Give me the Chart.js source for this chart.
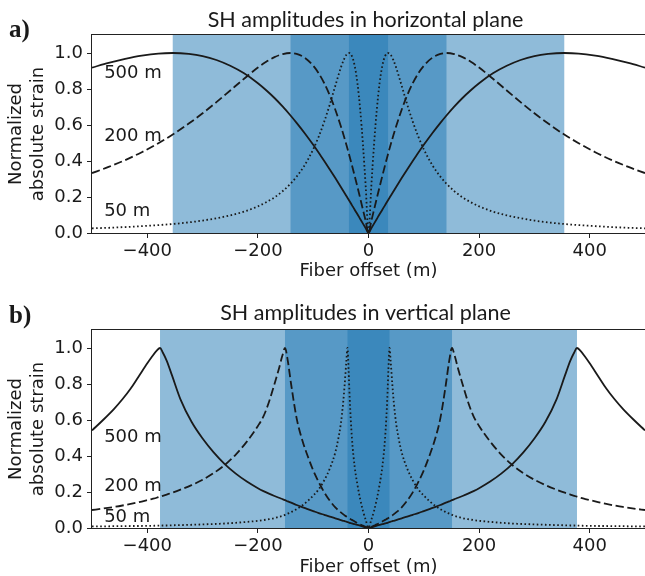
<!DOCTYPE html>
<html>
<head>
<meta charset="utf-8">
<script src="https://cdn.jsdelivr.net/npm/chart.js@4.4.1/dist/chart.umd.min.js"></script>
<style>
  html, body { margin: 0; padding: 0; background: #fff; overflow: hidden; }
  #wrap { position: relative; width: 645px; height: 576px; overflow: hidden; }
  canvas { position: absolute; left: 0; }
  #chartA { top: 0; }
  #chartB { top: 290px; }
</style>
</head>
<body>
<div id="wrap">
  <canvas id="chartA" width="645" height="290"></canvas>
  <canvas id="chartB" width="645" height="296"></canvas>
</div>
<script>
// fibre offsets (m) on one side of the source; both patterns are symmetric about x = 0
const offsetsH = [0, 5, 10, 15, 20, 25, 30, 35, 40, 45, 50, 60, 70, 80, 90, 100, 115, 130, 141, 155, 170, 185, 200, 225, 250, 275, 300, 325, 354, 380, 410, 440, 470, 500];
const horiz500 = [0, 0.026, 0.052, 0.078, 0.104, 0.129, 0.155, 0.181, 0.206, 0.231, 0.256, 0.305, 0.353, 0.400, 0.446, 0.490, 0.553, 0.612, 0.653, 0.702, 0.750, 0.793, 0.832, 0.887, 0.929, 0.961, 0.983, 0.995, 1.000, 0.997, 0.985, 0.967, 0.945, 0.919];
const horiz200 = [0, 0.065, 0.129, 0.193, 0.256, 0.317, 0.377, 0.435, 0.490, 0.543, 0.593, 0.685, 0.765, 0.832, 0.887, 0.929, 0.973, 0.995, 1.000, 0.994, 0.977, 0.951, 0.919, 0.857, 0.792, 0.727, 0.665, 0.608, 0.547, 0.499, 0.449, 0.405, 0.367, 0.333];
const horiz50 = [0, 0.256, 0.490, 0.685, 0.832, 0.929, 0.983, 1.000, 0.990, 0.960, 0.919, 0.818, 0.714, 0.619, 0.536, 0.465, 0.379, 0.313, 0.274, 0.233, 0.198, 0.171, 0.148, 0.119, 0.098, 0.082, 0.069, 0.059, 0.050, 0.044, 0.038, 0.033, 0.029, 0.026];

const offsetsV = [0, 5, 10, 15, 20, 25, 30, 34, 36, 38, 40, 43, 46, 50, 55, 60, 70, 80, 90, 100, 110, 120, 130, 140, 146, 151, 156, 162, 170, 180, 190, 200, 220, 240, 260, 280, 300, 320, 340, 355, 365, 372, 377, 383, 392, 400, 415, 430, 445, 460, 480, 500];
const vert500 = [0, 0.004, 0.008, 0.013, 0.017, 0.021, 0.026, 0.029, 0.031, 0.033, 0.035, 0.038, 0.040, 0.044, 0.049, 0.054, 0.063, 0.073, 0.083, 0.094, 0.105, 0.116, 0.128, 0.141, 0.148, 0.155, 0.161, 0.168, 0.178, 0.191, 0.205, 0.221, 0.258, 0.302, 0.355, 0.420, 0.497, 0.590, 0.715, 0.845, 0.930, 0.975, 1.000, 0.985, 0.950, 0.915, 0.845, 0.775, 0.715, 0.662, 0.600, 0.542];
const vert200 = [0, 0.006, 0.013, 0.020, 0.028, 0.036, 0.045, 0.052, 0.056, 0.060, 0.064, 0.070, 0.077, 0.087, 0.100, 0.115, 0.152, 0.198, 0.255, 0.320, 0.400, 0.490, 0.610, 0.800, 0.930, 1.000, 0.955, 0.885, 0.800, 0.700, 0.620, 0.567, 0.480, 0.408, 0.350, 0.305, 0.268, 0.238, 0.213, 0.196, 0.186, 0.179, 0.174, 0.168, 0.161, 0.155, 0.144, 0.134, 0.125, 0.117, 0.108, 0.100];
const vert50 = [0, 0.045, 0.095, 0.160, 0.240, 0.340, 0.500, 0.720, 0.880, 1.000, 0.930, 0.800, 0.690, 0.580, 0.490, 0.420, 0.330, 0.265, 0.215, 0.180, 0.150, 0.125, 0.105, 0.088, 0.080, 0.073, 0.067, 0.062, 0.055, 0.049, 0.044, 0.040, 0.034, 0.029, 0.025, 0.022, 0.020, 0.018, 0.016, 0.015, 0.014, 0.014, 0.013, 0.013, 0.012, 0.012, 0.011, 0.011, 0.010, 0.010, 0.009, 0.009];

// half-widths (m) of the shaded zones, widest first
const bandsH = [354, 141, 35.4];
const bandsV = [377, 151, 38];

const depthLabels = ['500 m', '200 m', '50 m'];
const labelYH = [0.885, 0.535, 0.12];
const labelYV = [0.505, 0.23, 0.06];
const labelX = -478;

const xTicks = [-400, -200, 0, 200, 400];
const yTicks = [0, 0.2, 0.4, 0.6, 0.8, 1.0];

const SANS = '"DejaVu Sans", sans-serif';
const INK = '#1a1a1a';
const dashes = [[], [8.3, 3.6], [1.6, 2.5]];

function mirror(offsets, values) {
  const pts = [];
  for (let i = offsets.length - 1; i > 0; i--) pts.push({x: -offsets[i], y: values[i]});
  for (let i = 0; i < offsets.length; i++) pts.push({x: offsets[i], y: values[i]});
  return pts;
}

const panelPlugin = {
  id: 'panel',
  beforeDatasetsDraw(chart, args, opts) {
    const {ctx, chartArea: a, scales: {x}} = chart;
    ctx.save();
    ctx.fillStyle = 'rgba(31, 119, 180, 0.5)';
    opts.bands.forEach(w => {
      const x0 = x.getPixelForValue(-w), x1 = x.getPixelForValue(w);
      ctx.fillRect(x0, a.top, x1 - x0, a.bottom - a.top);
    });
    ctx.restore();
  },
  afterDatasetsDraw(chart, args, opts) {
    const {ctx, chartArea: a, scales: {x, y}} = chart;
    ctx.save();
    ctx.strokeStyle = '#222';
    ctx.lineWidth = 1;
    ctx.strokeRect(a.left - 0.5, a.top - 0.5, a.right - a.left + 1, a.bottom - a.top + 1);
    ctx.fillStyle = INK;
    ctx.font = '18px ' + SANS;
    ctx.textAlign = 'left';
    ctx.textBaseline = 'middle';
    depthLabels.forEach((t, i) => {
      ctx.fillText(t, x.getPixelForValue(labelX), y.getPixelForValue(opts.labelY[i]));
    });
    // panel title and letter
    ctx.font = '21.5px Lato, sans-serif';
    ctx.textAlign = 'center';
    ctx.textBaseline = 'alphabetic';
    ctx.fillText(opts.title, (a.left + a.right) / 2 - 3, opts.titleY);
    ctx.font = 'bold 25px "Liberation Serif", serif';
    ctx.textAlign = 'left';
    ctx.fillText(opts.letter, 9, opts.letterY);
    ctx.restore();
  }
};

function makeChart(id, offsets, series, opts) {
  const datasets = series.map((vals, i) => ({
    label: depthLabels[i],
    data: mirror(offsets, vals),
    borderColor: INK,
    borderWidth: 1.8,
    borderDash: dashes[i],
    pointRadius: 0,
    cubicInterpolationMode: 'monotone',
    fill: false
  }));
  return new Chart(document.getElementById(id), {
    type: 'line',
    data: {datasets},
    plugins: [panelPlugin],
    options: {
      responsive: false,
      animation: false,
      events: [],
      layout: {padding: {top: opts.top, left: 0, right: 0, bottom: 0}},
      plugins: {
        legend: {display: false},
        tooltip: {enabled: false},
        panel: opts
      },
      scales: {
        x: {
          type: 'linear',
          min: -500,
          max: 500,
          afterBuildTicks: s => { s.ticks = xTicks.map(v => ({value: v})); },
          afterFit: s => { s.height = opts.xHeight; },
          ticks: {
            font: {family: SANS, size: 18},
            color: INK,
            padding: 3,
            maxRotation: 0,
            autoSkip: false,
            callback: v => v < 0 ? '\u2212' + Math.abs(v) : String(v)
          },
          grid: {display: true, drawOnChartArea: false, drawTicks: true, tickLength: 5, color: '#222'},
          border: {display: false},
          title: {
            display: true,
            text: 'Fiber offset (m)',
            font: {family: SANS, size: 18},
            color: INK,
            padding: {top: 0, bottom: 8}
          }
        },
        y: {
          min: 0,
          max: 1.1,
          afterBuildTicks: s => { s.ticks = yTicks.map(v => ({value: v})); },
          afterFit: s => { s.width = 92; },
          ticks: {
            font: {family: SANS, size: 18},
            color: INK,
            padding: 4,
            callback: v => v.toFixed(1)
          },
          grid: {display: true, drawOnChartArea: false, drawTicks: true, tickLength: 5, color: '#222'},
          border: {display: false},
          title: {
            display: true,
            text: ['Normalized', 'absolute strain'],
            font: {family: SANS, size: 18},
            color: INK,
            padding: {top: 6, bottom: 0}
          }
        }
      }
    }
  });
}

makeChart('chartA', offsetsH, [horiz500, horiz200, horiz50], {
  top: 35, xHeight: 57, bands: bandsH, labelY: labelYH,
  title: 'SH amplitudes in horizontal plane', titleY: 27, letter: 'a)', letterY: 37
});
makeChart('chartB', offsetsV, [vert500, vert200, vert50], {
  top: 40, xHeight: 58, bands: bandsV, labelY: labelYV,
  title: 'SH amplitudes in vertical plane', titleY: 30, letter: 'b)', letterY: 33
});
</script>
</body>
</html>
